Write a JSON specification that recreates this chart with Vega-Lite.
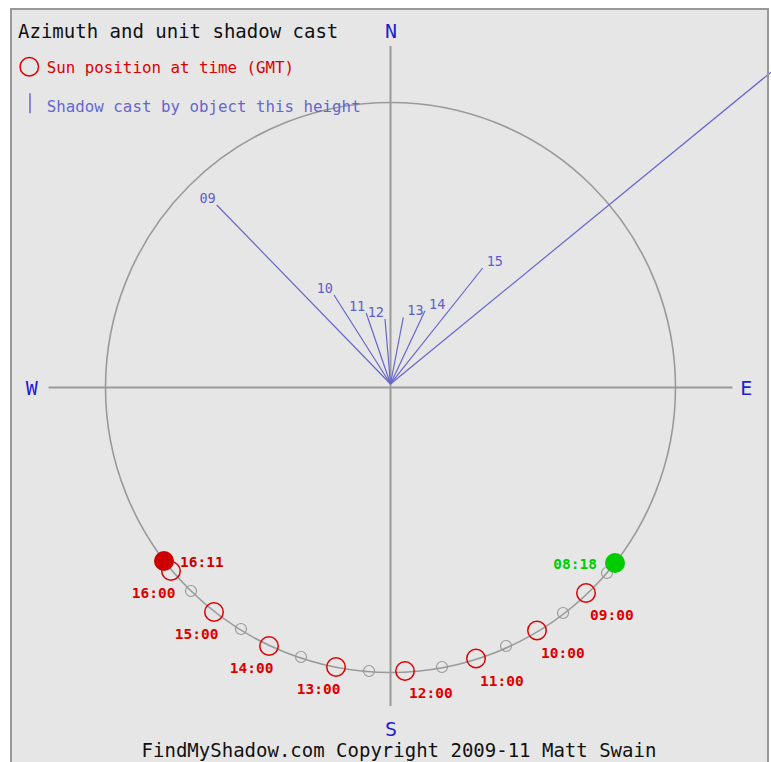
{
  "$schema": "https://vega.github.io/schema/vega-lite/v6.json",
  "width": 771,
  "height": 762,
  "autosize": {"type": "fit", "contains": "padding"},
  "padding": 0,
  "background": "white",
  "view": {"stroke": null},
  "datasets": {
    "sun": [
      {"time": "08:18", "x": 0.7877, "y": -0.6158, "kind": "rise", "side": "am"},
      {"time": "08:30", "x": 0.7596, "y": -0.6509, "kind": "half", "side": "am"},
      {"time": "09:00", "x": 0.686, "y": -0.721, "kind": "hour", "side": "am"},
      {"time": "09:30", "x": 0.6053, "y": -0.7912, "kind": "half", "side": "am"},
      {"time": "10:00", "x": 0.514, "y": -0.8526, "kind": "hour", "side": "am"},
      {"time": "10:30", "x": 0.4053, "y": -0.907, "kind": "half", "side": "am"},
      {"time": "11:00", "x": 0.3, "y": -0.951, "kind": "hour", "side": "am"},
      {"time": "11:30", "x": 0.1807, "y": -0.9807, "kind": "half", "side": "am"},
      {"time": "12:00", "x": 0.0509, "y": -0.9947, "kind": "hour", "side": "am"},
      {"time": "12:30", "x": -0.0754, "y": -0.9947, "kind": "half", "side": "pm"},
      {"time": "13:00", "x": -0.1912, "y": -0.9807, "kind": "hour", "side": "pm"},
      {"time": "13:30", "x": -0.314, "y": -0.9456, "kind": "half", "side": "pm"},
      {"time": "14:00", "x": -0.4263, "y": -0.907, "kind": "hour", "side": "pm"},
      {"time": "14:30", "x": -0.5246, "y": -0.8474, "kind": "half", "side": "pm"},
      {"time": "15:00", "x": -0.6193, "y": -0.7877, "kind": "hour", "side": "pm"},
      {"time": "15:30", "x": -0.7, "y": -0.714, "kind": "half", "side": "pm"},
      {"time": "16:00", "x": -0.7702, "y": -0.6439, "kind": "hour", "side": "pm"},
      {"time": "16:11", "x": -0.7947, "y": -0.6088, "kind": "set", "side": "pm"}
    ],
    "shadow": [
      {"hour": "09", "x": -0.6098, "y": 0.6404, "side": "am"},
      {"hour": "10", "x": -0.1982, "y": 0.3246, "side": "am"},
      {"hour": "11", "x": -0.0853, "y": 0.2614, "side": "am"},
      {"hour": "12", "x": -0.0193, "y": 0.2404, "side": "am"},
      {"hour": "13", "x": 0.0449, "y": 0.2463, "side": "pm"},
      {"hour": "14", "x": 0.1211, "y": 0.2695, "side": "pm"},
      {"hour": "15", "x": 0.3235, "y": 0.4193, "side": "pm"},
      {"hour": "16", "x": 1.5421, "y": 1.2761, "side": "far"}
    ]
  },
  "encoding": {
    "x": {"field": "x", "type": "quantitative", "scale": {"domain": [-1.370175, 1.335088], "nice": false, "zero": false}, "axis": null},
    "y": {"field": "y", "type": "quantitative", "scale": {"domain": [-1.314035, 1.359649], "nice": false, "zero": false}, "axis": null}
  },
  "layer": [
    {
      "data": {"values": [{"x": -1.3316, "y": 1.3281, "x2": 1.3246, "y2": -1.45}]},
      "mark": {"type": "rect", "fill": "#e6e6e6", "strokeWidth": 0, "clip": true},
      "encoding": {"x2": {"field": "x2"}, "y2": {"field": "y2"}}
    },
    {
      "data": {"values": [{"x": -1.2, "y": 0, "x2": 1.2, "y2": 0}, {"x": 0, "y": 1.198, "x2": 0, "y2": -1.1175}]},
      "mark": {"type": "rule", "color": "#9a9a9a", "strokeWidth": 2},
      "encoding": {"x2": {"field": "x2"}, "y2": {"field": "y2"}}
    },
    {
      "data": {"values": [{"x": 0, "y": 0}]},
      "mark": {"type": "point", "shape": "circle", "size": 324900, "filled": false, "stroke": "#9a9a9a", "strokeWidth": 1.6, "opacity": 1}
    },
    {
      "data": {"name": "shadow"},
      "mark": {"type": "rule", "color": "#6666cc", "strokeWidth": 1.2, "clip": true},
      "encoding": {"x2": {"datum": 0}, "y2": {"datum": 0.0123}}
    },
    {
      "data": {"name": "shadow"},
      "transform": [{"filter": "datum.side === 'am'"}],
      "mark": {"type": "text", "align": "right", "baseline": "alphabetic", "dx": -1, "dy": -2, "font": "DejaVu Sans Mono", "fontSize": 13.5, "color": "#5f5fcc"},
      "encoding": {"text": {"field": "hour"}}
    },
    {
      "data": {"name": "shadow"},
      "transform": [{"filter": "datum.side === 'pm'"}],
      "mark": {"type": "text", "align": "left", "baseline": "alphabetic", "dx": 4, "dy": -2, "font": "DejaVu Sans Mono", "fontSize": 13.5, "color": "#5f5fcc"},
      "encoding": {"text": {"field": "hour"}}
    },
    {
      "data": {"name": "sun"},
      "transform": [{"filter": "datum.kind === 'half'"}],
      "mark": {"type": "point", "shape": "circle", "size": 121, "filled": false, "stroke": "#9a9a9a", "strokeWidth": 1.2, "opacity": 1}
    },
    {
      "data": {"name": "sun"},
      "transform": [{"filter": "datum.kind === 'hour'"}],
      "mark": {"type": "point", "shape": "circle", "size": 342, "filled": false, "stroke": "#dd0000", "strokeWidth": 1.5, "opacity": 1}
    },
    {
      "data": {"name": "sun"},
      "transform": [{"filter": "datum.kind === 'rise' || datum.kind === 'set'"}],
      "mark": {"type": "point", "shape": "circle", "size": 400, "filled": true, "opacity": 1, "strokeWidth": 0},
      "encoding": {"color": {"field": "kind", "type": "nominal", "scale": {"domain": ["rise", "set"], "range": ["#00cc00", "#cc0000"]}, "legend": null}}
    },
    {
      "data": {"name": "sun"},
      "transform": [{"filter": "datum.kind === 'hour' && datum.side === 'am'"}],
      "mark": {"type": "text", "align": "left", "baseline": "alphabetic", "dx": 4, "dy": 27.3, "font": "DejaVu Sans Mono", "fontSize": 14.5, "fontWeight": "bold", "color": "#dd0000"},
      "encoding": {"text": {"field": "time"}}
    },
    {
      "data": {"name": "sun"},
      "transform": [{"filter": "datum.kind === 'hour' && datum.side === 'pm'"}],
      "mark": {"type": "text", "align": "right", "baseline": "alphabetic", "dx": 4.5, "dy": 27.3, "font": "DejaVu Sans Mono", "fontSize": 14.5, "fontWeight": "bold", "color": "#dd0000"},
      "encoding": {"text": {"field": "time"}}
    },
    {
      "data": {"name": "sun"},
      "transform": [{"filter": "datum.kind === 'set'"}],
      "mark": {"type": "text", "align": "left", "baseline": "alphabetic", "dx": 16, "dy": 6.3, "font": "DejaVu Sans Mono", "fontSize": 14.5, "fontWeight": "bold", "color": "#cc0000"},
      "encoding": {"text": {"field": "time"}}
    },
    {
      "data": {"name": "sun"},
      "transform": [{"filter": "datum.kind === 'rise'"}],
      "mark": {"type": "text", "align": "right", "baseline": "alphabetic", "dx": -18, "dy": 6.3, "font": "DejaVu Sans Mono", "fontSize": 14.5, "fontWeight": "bold", "color": "#00cc00"},
      "encoding": {"text": {"field": "time"}}
    },
    {
      "data": {"values": [
        {"label": "N", "x": 0.0018, "y": 1.2253},
        {"label": "S", "x": 0.0018, "y": -1.2228},
        {"label": "W", "x": -1.259, "y": -0.0263},
        {"label": "E", "x": 1.2484, "y": -0.0263}
      ]},
      "mark": {"type": "text", "align": "center", "baseline": "alphabetic", "font": "DejaVu Sans Mono", "fontSize": 20, "color": "#1f1fd0"},
      "encoding": {"text": {"field": "label"}}
    },
    {
      "data": {"values": [{"label": "Azimuth and unit shadow cast", "x": -1.307, "y": 1.2246}]},
      "mark": {"type": "text", "align": "left", "baseline": "alphabetic", "font": "DejaVu Sans Mono", "fontSize": 19, "color": "#111111"},
      "encoding": {"text": {"field": "label"}}
    },
    {
      "data": {"values": [{"label": "FindMyShadow.com Copyright 2009-11 Matt Swain", "x": 0.0298, "y": -1.2965}]},
      "mark": {"type": "text", "align": "center", "baseline": "alphabetic", "font": "DejaVu Sans Mono", "fontSize": 19, "color": "#111111"},
      "encoding": {"text": {"field": "label"}}
    },
    {
      "data": {"values": [{"label": "Sun position at time (GMT)", "x": -1.206, "y": 1.1046}]},
      "mark": {"type": "text", "align": "left", "baseline": "alphabetic", "font": "DejaVu Sans Mono", "fontSize": 15.8, "color": "#dd0000"},
      "encoding": {"text": {"field": "label"}}
    },
    {
      "data": {"values": [{"label": "Shadow cast by object this height", "x": -1.206, "y": 0.9656}]},
      "mark": {"type": "text", "align": "left", "baseline": "alphabetic", "font": "DejaVu Sans Mono", "fontSize": 15.8, "color": "#6666cc"},
      "encoding": {"text": {"field": "label"}}
    },
    {
      "data": {"values": [{"x": -1.2674, "y": 1.1256}]},
      "mark": {"type": "point", "shape": "circle", "size": 342, "filled": false, "stroke": "#dd0000", "strokeWidth": 1.5, "opacity": 1}
    },
    {
      "data": {"values": [{"x": -1.2649, "y": 1.0323, "y2": 0.9621}]},
      "mark": {"type": "rule", "color": "#6666cc", "strokeWidth": 1.5},
      "encoding": {"y2": {"field": "y2"}}
    },
    {
      "data": {"values": [{"x": -1.3316, "y": 1.3281, "x2": 1.3246, "y2": -1.45}]},
      "mark": {"type": "rect", "fill": null, "fillOpacity": 0, "stroke": "#999999", "strokeWidth": 2, "clip": true},
      "encoding": {"x2": {"field": "x2"}, "y2": {"field": "y2"}}
    }
  ]
}
